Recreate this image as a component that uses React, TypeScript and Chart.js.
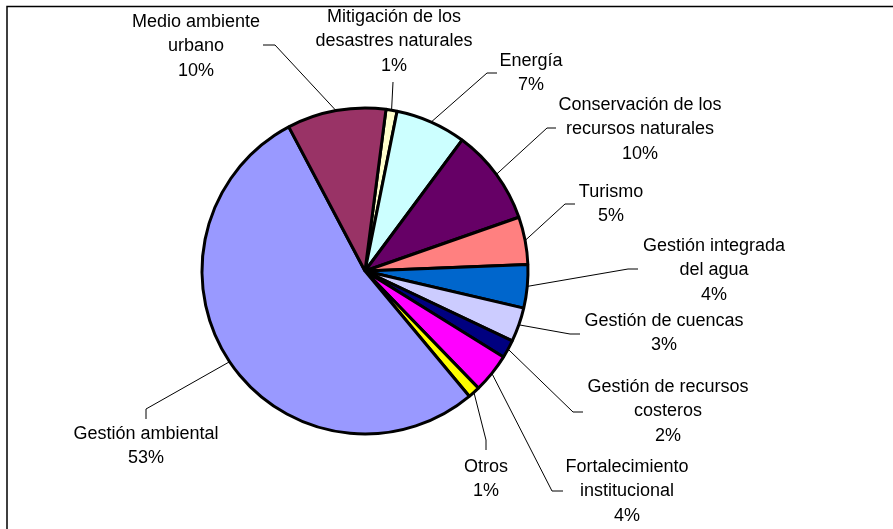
import React, { useEffect, useRef } from "react";
import { Chart, registerables } from "chart.js";

Chart.register(...registerables);

// ---- Data ----
const categories: string[][] = [
  ["Mitigación de los", "desastres naturales"],
  ["Energía"],
  ["Conservación de los", "recursos naturales"],
  ["Turismo"],
  ["Gestión integrada", "del agua"],
  ["Gestión de cuencas"],
  ["Gestión de recursos", "costeros"],
  ["Fortalecimiento", "institucional"],
  ["Otros"],
  ["Gestión ambiental"],
  ["Medio ambiente", "urbano"],
];
const values: number[] = [1.1, 7.0, 9.5, 4.7, 4.3, 3.4, 1.8, 3.9, 1.2, 53.3, 9.8];
const percentLabels: string[] = ["1%", "7%", "10%", "5%", "4%", "3%", "2%", "4%", "1%", "53%", "10%"];
const colors: string[] = [
  "#FFFFCC",
  "#CCFFFF",
  "#660066",
  "#FF8080",
  "#0066CC",
  "#CCCCFF",
  "#000080",
  "#FF00FF",
  "#FFFF00",
  "#9999FF",
  "#993366",
];

// ---- Label layout (text centre x, first-line centre y, leader end, leader elbow) ----
const labelLayout: { cx: number; cy: number; ax: number; ay: number; ex: number; ey: number }[] = [
  { cx: 394, cy: 17, ax: 393, ay: 82, ex: 393, ey: 82 },
  { cx: 531, cy: 61, ax: 497, ay: 73, ex: 487, ey: 73 },
  { cx: 640, cy: 105, ax: 556, ay: 128, ex: 547, ey: 128 },
  { cx: 611, cy: 192, ax: 575, ay: 204, ex: 565, ey: 204 },
  { cx: 714, cy: 246, ax: 638, ay: 269, ex: 628, ey: 269 },
  { cx: 664, cy: 321, ax: 580, ay: 334, ex: 570, ey: 334 },
  { cx: 668, cy: 387, ax: 583, ay: 412, ex: 573, ey: 412 },
  { cx: 627, cy: 467, ax: 563, ay: 491, ex: 552, ey: 491 },
  { cx: 486, cy: 467, ax: 486, ay: 450, ex: 486, ey: 440 },
  { cx: 146, cy: 434, ax: 146, ay: 419, ex: 146, ey: 409 },
  { cx: 196, cy: 22, ax: 263, ay: 45, ex: 275, ey: 45 },
];

const LINE_H = 24.5;
const FONT = "18px Arial, 'Liberation Sans', sans-serif";

const labelPlugin = {
  id: "excelLabels",
  beforeDraw(chart: any) {
    const ctx = chart.ctx;
    ctx.save();
    ctx.fillStyle = "#ffffff";
    ctx.fillRect(0, 0, chart.width, chart.height);
    ctx.strokeStyle = "#000000";
    ctx.lineWidth = 1.5;
    ctx.beginPath();
    ctx.moveTo(7, chart.height);
    ctx.lineTo(7, 6.5);
    ctx.lineTo(chart.width, 6.5);
    ctx.stroke();
    ctx.restore();
  },
  afterDraw(chart: any) {
    const ctx = chart.ctx;
    const meta = chart.getDatasetMeta(0);
    ctx.save();
    meta.data.forEach((arc: any, i: number) => {
      const p = arc.getProps(["x", "y", "startAngle", "endAngle", "outerRadius"], true);
      const mid = (p.startAngle + p.endAngle) / 2;
      const px = p.x + Math.cos(mid) * p.outerRadius;
      const py = p.y + Math.sin(mid) * p.outerRadius;
      const L = labelLayout[i];
      ctx.strokeStyle = "#000000";
      ctx.lineWidth = 1;
      ctx.beginPath();
      ctx.moveTo(px, py);
      ctx.lineTo(L.ex, L.ey);
      ctx.lineTo(L.ax, L.ay);
      ctx.stroke();
      const lines = [...categories[i], percentLabels[i]];
      ctx.fillStyle = "#000000";
      ctx.font = FONT;
      ctx.textAlign = "center";
      ctx.textBaseline = "middle";
      lines.forEach((t, k) => ctx.fillText(t, L.cx, L.cy + k * LINE_H));
    });
    ctx.restore();
  },
};

export default function App() {
  const ref = useRef<HTMLCanvasElement | null>(null);
  useEffect(() => {
    if (!ref.current) return;
    const chart = new Chart(ref.current, {
      type: "pie",
      data: {
        labels: categories.map((c) => c.join(" ")),
        datasets: [
          {
            data: values,
            backgroundColor: colors,
            borderColor: "#000000",
            borderWidth: 3,
          },
        ],
      },
      options: {
        responsive: false,
        animation: false,
        rotation: 7.4,
        radius: 163,
        layout: { padding: { left: 0, right: 163, top: 13, bottom: 0 } },
        plugins: {
          legend: { display: false },
          tooltip: { enabled: false },
          title: { display: false },
        },
      },
      plugins: [labelPlugin],
    });
    return () => chart.destroy();
  }, []);
  return (
    <div style={{ position: "fixed", left: 0, top: 0, width: 893, height: 529, background: "#fff" }}>
      <canvas ref={ref} width={893} height={529} style={{ display: "block" }} />
    </div>
  );
}
